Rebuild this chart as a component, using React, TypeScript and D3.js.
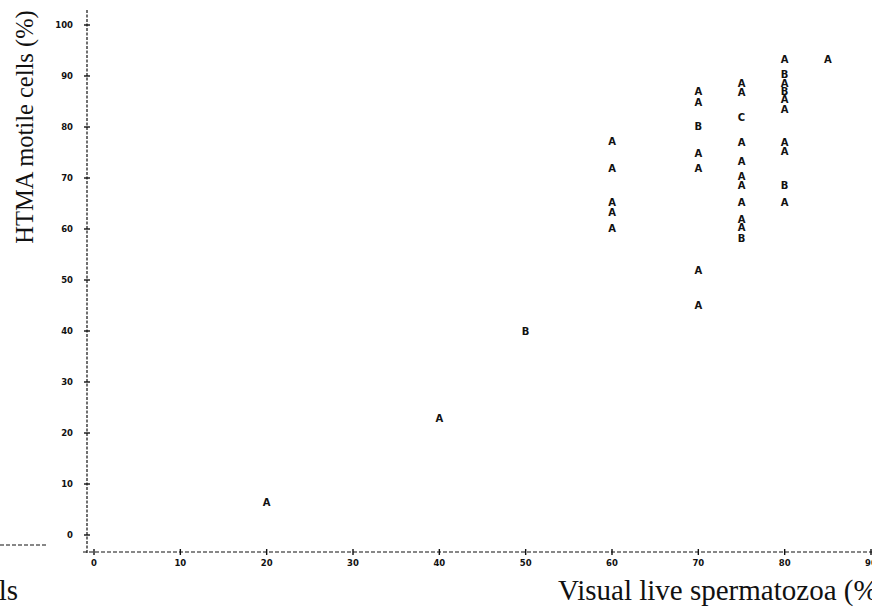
import React from 'react';
import * as d3 from 'd3';

const xValues = [20, 40, 50, 60, 60, 60, 60, 60,
  70, 70, 70, 70, 70, 70, 70,
  75, 75, 75, 75, 75, 75, 75, 75, 75, 75, 75,
  80, 80, 80, 80, 80, 80, 80, 80, 80, 80, 85];
const yValues = [6.5, 23, 40, 77.3, 72, 65.3, 63.3, 60.2,
  87, 85, 80.2, 75, 72, 52, 45.1,
  88.6, 86.8, 82, 77, 73.4, 70.3, 68.6, 65.3, 62, 60.3, 58.3,
  93.4, 90.3, 88.7, 87.1, 85.5, 83.6, 77, 75.2, 68.7, 65.2, 93.4];
const letters = ['A', 'A', 'B', 'A', 'A', 'A', 'A', 'A',
  'A', 'A', 'B', 'A', 'A', 'A', 'A',
  'A', 'A', 'C', 'A', 'A', 'A', 'A', 'A', 'A', 'A', 'B',
  'A', 'B', 'A', 'B', 'A', 'A', 'A', 'A', 'B', 'A', 'A'];

const xTicks = [0, 10, 20, 30, 40, 50, 60, 70, 80, 90];
const yTicks = [0, 10, 20, 30, 40, 50, 60, 70, 80, 90, 100];

const W = 872;
const H = 613;

export default function App() {
  const x = d3.scaleLinear().domain([0, 90]).range([94, 871]);
  const y = d3.scaleLinear().domain([0, 100]).range([535, 25]);

  const axisX = 87;   // vertical axis sits a bit left of x=0
  const axisY = 552;  // horizontal axis sits below y=0
  const ink = '#111';
  const tickFont = { fontFamily: '"DejaVu Sans", sans-serif', fontSize: 8.5, fontWeight: 700 };

  return (
    <svg width={W} height={H} style={{ position: 'absolute', left: 0, top: 0, background: '#fff' }}>
      {/* left stub of the dashed baseline */}
      <line x1={0} x2={48} y1={545} y2={545} stroke={ink} strokeWidth={1.2} strokeDasharray="4 2" />

      {/* y axis */}
      <line x1={axisX} x2={axisX} y1={10} y2={axisY + 1} stroke={ink} strokeWidth={1.2} strokeDasharray="3 1.5" />
      {yTicks.map(t => (
        <g key={'y' + t}>
          <line x1={axisX - 3} x2={axisX + 3} y1={y(t)} y2={y(t)} stroke={ink} strokeWidth={1.4} />
          <text x={73} y={y(t) + 3} textAnchor="end" fill={ink} style={tickFont}>{t}</text>
        </g>
      ))}

      {/* x axis */}
      <line x1={axisX - 4} x2={W} y1={axisY} y2={axisY} stroke={ink} strokeWidth={1.2} strokeDasharray="4 2" />
      {xTicks.map(t => (
        <g key={'x' + t}>
          <line x1={x(t)} x2={x(t)} y1={axisY - 3} y2={axisY + 3} stroke={ink} strokeWidth={1.4} />
          <text x={x(t)} y={566} textAnchor="middle" fill={ink} style={tickFont}>{t}</text>
        </g>
      ))}

      {/* plot letters */}
      {xValues.map((xv, i) => (
        <text key={'p' + i} x={x(xv)} y={y(yValues[i]) + 4} textAnchor="middle" fill={ink}
          style={{ fontFamily: '"DejaVu Sans", sans-serif', fontSize: 10, fontWeight: 700 }}>
          {letters[i]}
        </text>
      ))}

      {/* axis titles */}
      <text transform="translate(33,127) rotate(-90)" textAnchor="middle" fill={ink}
        style={{ fontFamily: '"Liberation Serif", serif', fontSize: 24.5 }}>
        HTMA motile cells (%)
      </text>
      <text x={558} y={600} fill={ink}
        style={{ fontFamily: '"Liberation Serif", serif', fontSize: 29 }}>
        Visual live spermatozoa (%)
      </text>
      <text x={18} y={600} textAnchor="end" fill={ink}
        style={{ fontFamily: '"Liberation Serif", serif', fontSize: 29 }}>
        cells
      </text>
    </svg>
  );
}
